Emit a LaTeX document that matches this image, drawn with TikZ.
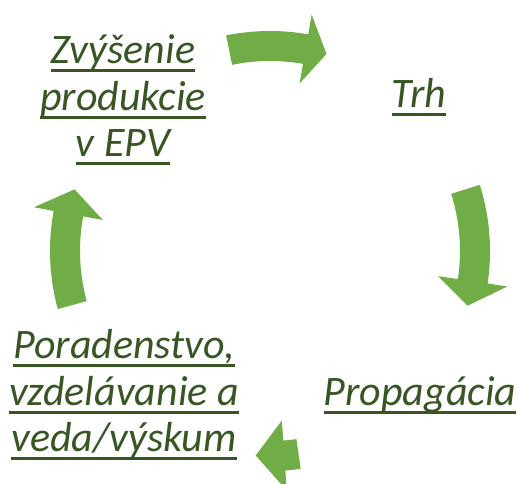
\documentclass[tikz,border=0pt]{standalone}
\usepackage{fontspec}
\setmainfont{Carlito}
\definecolor{arrowgreen}{HTML}{70AD47}
\definecolor{textgreen}{HTML}{375623}
\newcommand\ulin[1]{\setbox0=\hbox{#1}\rlap{\rule[-8.5pt]{\wd0}{3pt}}\box0}

\begin{document}
\begin{tikzpicture}[x=1pt,y=1pt]
\tikzset{label text/.style={text=textgreen, font=\fontsize{42}{46.5}\selectfont\itshape, align=center, anchor=base, inner sep=0pt},
	cycle arrow/.style={fill=arrowgreen}}
\useasboundingbox (0,0) rectangle (519,484);
\coordinate (c) at (270,233);
				\node[label text] (zvysenie) at (123,327) {\ulin{Zvýšenie}\\\ulin{produkcie}\\\ulin{v EPV}};
				\node[label text] (trh) at (419,376) {\ulin{Trh}};
				\node[label text] (propagacia) at (420,78) {\ulin{Propagácia}};
				\node[label text] (poradenstvo) at (124,32) {\ulin{Poradenstvo,}\\\ulin{vzdelávanie a}\\\ulin{veda/výskum}};
\foreach \t/\h/\p in {101.5/80/74, 17.5/-8.5/-15.5, 195.3/169.5/162.5, -82/-86/-94}
	\fill[cycle arrow, shift={(c)}] (\t:220) arc[start angle=\t, end angle=\h, radius=220]
		-- (\h:240) -- (\p:205) -- (\h:170) -- (\h:190)
		arc[start angle=\h, end angle=\t, radius=190] -- cycle;
\end{tikzpicture}
\end{document}
